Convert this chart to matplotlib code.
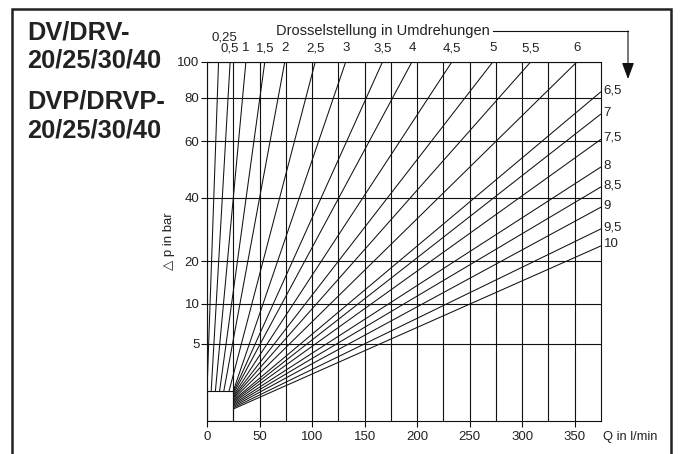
import numpy as np
import matplotlib
from matplotlib import pyplot as plt
from matplotlib.patches import Rectangle

matplotlib.use('Agg')

plt.rcParams['font.family'] = ['Liberation Sans', 'DejaVu Sans']

# throttle settings (turns) whose lines leave the chart at the top (100 bar)
top_turns = ['0,25', '0,5', '1', '1,5', '2', '2,5', '3', '3,5', '4', '4,5', '5', '5,5', '6']
top_q = [11, 22, 37, 55, 74, 103, 132, 167, 195, 233, 272, 308, 352]

# throttle settings whose lines leave the chart at the right edge (375 l/min)
side_turns = ['6,5', '7', '7,5', '8', '8,5', '9', '9,5', '10']
side_dp = [83.5, 72.6, 60.8, 50.9, 43.9, 37.1, 30.2, 24.8]

# start of every line (same order: top lines first, then side lines)
start_q = [0, 4, 8, 12, 16, 21, 25, 25, 25, 25, 25, 25, 25, 25, 25, 25, 25, 25, 25, 25, 25]
start_dp = [1.95, 1.95, 1.95, 1.95, 1.95, 1.95, 1.95, 1.85, 1.75, 1.65, 1.57, 1.5, 1.42,
            1.34, 1.26, 1.18, 1.1, 1.02, 0.94, 0.86, 0.78]

x_ticks = [0, 50, 100, 150, 200, 250, 300, 350]
y_ticks = [5, 10, 20, 40, 60, 80, 100]

# the printed pressure axis is not linear: pressure value -> height on the sheet
p_knots = [0, 5, 10, 20, 40, 60, 80, 100]
h_knots = [0, 77, 117, 160, 223, 280, 323, 359]


def fwd(p):
    return np.interp(p, p_knots, h_knots)


def inv(h):
    return np.interp(h, h_knots, p_knots)


fig = plt.figure(figsize=(6.81, 4.54), dpi=100)
ax = fig.add_axes([207 / 681, 1 - 421 / 454, 394 / 681, 359 / 454])
ax.set_yscale('function', functions=(fwd, inv))
ax.set_xlim(0, 375)
ax.set_ylim(0, 100)

# grid
ax.set_xticks(x_ticks)
ax.set_xticks(np.arange(25, 375, 25), minor=True)
ax.set_yticks(y_ticks)
ax.set_yticks([], minor=True)
ax.tick_params(axis='both', which='major', direction='out', length=4, width=0.8,
               color='#111', labelsize=9.5, labelcolor='#222')
ax.tick_params(axis='y', pad=1.5)
ax.tick_params(axis='x', pad=3)
ax.tick_params(axis='x', which='minor', length=0)
ax.grid(True, axis='x', which='both', color='#111', lw=0.8)
ax.grid(True, axis='y', which='major', color='#111', lw=0.8)
for s in ax.spines.values():
    s.set_color('#111')
    s.set_linewidth(0.8)

# small box at the origin
ax.add_patch(Rectangle((0, 0), 25, 1.95, fill=False, ec='#111', lw=0.8, zorder=3))

# throttle lines
end_q = top_q + [375] * len(side_dp)
end_dp = [100] * len(top_q) + side_dp
for q0, p0, q1, p1 in zip(start_q, start_dp, end_q, end_dp):
    ax.plot([q0, q1], [p0, p1], color='#111', lw=0.75, solid_capstyle='butt', zorder=3)

for lab, q in zip(top_turns, top_q):
    dx, dy = (4, 18) if lab == '0,25' else (0, 10)
    ax.annotate(lab, xy=(q, 1), xycoords=('data', 'axes fraction'), xytext=(dx, dy),
                textcoords='offset points', ha='center', va='center', fontsize=9.5, color='#222')
for lab, p in zip(side_turns, side_dp):
    ax.annotate(lab, xy=(375, p), xytext=(2, 1), textcoords='offset points',
                ha='left', va='center', fontsize=9.5, color='#222')

fig.text(603 / 681, 1 - 437 / 454, 'Q in l/min', ha='left', va='center',
         fontsize=9.3, color='#222')
fig.text(169 / 681, 1 - 241 / 454, '\u25b3 p in bar', rotation=90, ha='center', va='center',
         fontsize=9.5, color='#222')

# header with arrow
fig.text(383 / 681, 1 - 31 / 454, 'Drosselstellung in Umdrehungen', ha='center', va='center',
         fontsize=10.5, color='#222')
fig.add_artist(plt.Line2D([493 / 681, 628 / 681], [1 - 31 / 454, 1 - 31 / 454],
                          transform=fig.transFigure, color='#111', lw=0.8))
ax.annotate('', xy=(628 / 681, 1 - 79 / 454), xytext=(628 / 681, 1 - 31 / 454),
            xycoords='figure fraction', textcoords='figure fraction',
            arrowprops=dict(arrowstyle='-|>,head_length=0.4,head_width=0.15', color='#111',
                            lw=0.8, mutation_scale=25, shrinkA=0, shrinkB=0))

# model names
for txt, y in [('DV/DRV-', 32), ('20/25/30/40', 60), ('DVP/DRVP-', 101), ('20/25/30/40', 131)]:
    fig.text(27 / 681, 1 - y / 454, txt, ha='left', va='center', fontsize=18.3,
             fontweight='bold', color='#222')

# outer frame, open at the bottom
fig.add_artist(Rectangle((12 / 681, -0.1), 659 / 681, 1.1 - 9 / 454, transform=fig.transFigure,
                         fill=False, ec='#222', lw=1.8))

fig.savefig('out.png', dpi=100)
